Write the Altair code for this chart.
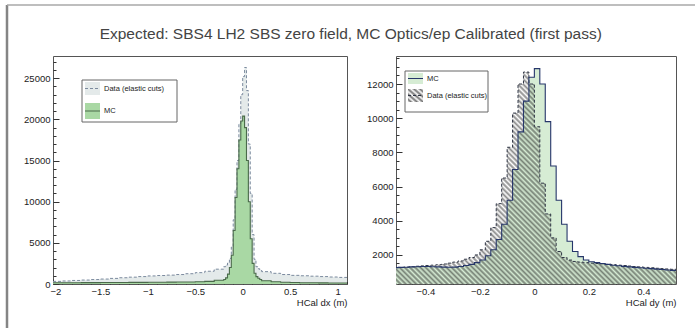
import altair as alt
import pandas as pd

FONT = "Liberation Sans"
TITLE = "Expected: SBS4 LH2 SBS zero field, MC Optics/ep Calibrated (first pass)"
DATA_NAME = "Data (elastic cuts)"
MC_NAME = "MC"
DX_TITLE = "HCal dx (m)"
DY_TITLE = "HCal dy (m)"

# ---------------- left panel: HCal dx (bin edges + contents) ----------------
dx_edges = [-2.0, -1.9, -1.8, -1.7, -1.6, -1.5, -1.4, -1.3, -1.2, -1.1, -1.0, -0.9,
            -0.8, -0.7, -0.6, -0.5, -0.4, -0.3,
            -0.2, -0.18, -0.16, -0.14, -0.12, -0.10, -0.08, -0.06, -0.04, -0.02,
            0.0, 0.02, 0.04, 0.06, 0.08, 0.10, 0.12, 0.14, 0.16, 0.18,
            0.2, 0.3, 0.4, 0.5, 0.6, 0.7, 0.8, 0.9, 1.0, 1.1]
dx_data = [320, 370, 430, 480, 540, 600, 680, 760, 830, 900, 980, 1030, 1080, 1150, 1250, 1380, 1550, 1800,
           2100, 2300, 2600, 3100, 4500, 7800, 11500, 15000, 19500, 23000,
           25200, 26300, 23500, 17000, 11000, 6000, 3000, 2100, 1850, 1700,
           1500, 1300, 1150, 1050, 1000, 950, 900, 850, 800]
dx_mc = [150, 150, 160, 170, 170, 180, 180, 190, 200, 200, 210, 220, 230, 240, 250, 280, 320, 450,
         550, 750, 1200, 2000, 3500, 6500, 10500, 14000, 17500, 19800,
         20400, 19000, 15000, 10000, 5500, 2500, 1300, 900, 700, 550,
         400, 280, 220, 180, 160, 150, 140, 130, 120]

# ---------------- right panel: HCal dy ----------------
dy_edges = [round(-0.52 + 0.02 * i, 2) for i in range(53)]
dy_data = [1250, 1270, 1290, 1310, 1340, 1360, 1380, 1400, 1430, 1470, 1520, 1580, 1650,
           1750, 1850, 2000, 2300, 2800, 3600, 5000, 6500, 8300, 10300, 12000, 12700, 12000,
           9500, 6200, 4400, 3000, 2200, 1850, 1700, 1620, 1580, 1550, 1520, 1500, 1480,
           1450, 1430, 1400, 1380, 1350, 1320, 1300, 1270, 1250, 1220, 1200, 1180, 1160]
dy_mc = [1260, 1270, 1280, 1300, 1310, 1320, 1320, 1310, 1300, 1290, 1280, 1290, 1320,
         1380, 1450, 1550, 1700, 1950, 2300, 2900, 3800, 5200, 7000, 9200, 11000, 12400,
         12900, 12000, 9800, 7200, 5200, 3800, 2800, 2200, 1900, 1700, 1600, 1550, 1500,
         1450, 1400, 1370, 1330, 1300, 1270, 1250, 1220, 1200, 1170, 1150, 1120, 1100]

# axis ranges and ticks
DX_DOMAIN = [-2.0, 1.1]
DX_YDOMAIN = [0, 27700]
DY_DOMAIN = [-0.508, 0.52]
DY_YDOMAIN = [300, 13640]
dx_major = [-2, -1.5, -1, -0.5, 0, 0.5, 1]
dx_minor = [round(-2 + 0.1 * i, 1) for i in range(32) if i % 5 != 0]
dxy_major = [0, 5000, 10000, 15000, 20000, 25000]
dxy_minor = [1000 * i for i in range(1, 28) if i % 5 != 0]
dy_major = [-0.4, -0.2, 0, 0.2, 0.4]
dy_minor = [round(-0.5 + 0.05 * i, 2) for i in range(21) if round(-0.5 + 0.05 * i, 2) not in (-0.4, -0.2, 0.0, 0.2, 0.4)]
dyy_major = [2000, 4000, 6000, 8000, 10000, 12000]
dyy_minor = [500 * i for i in range(1, 28) if i % 4 != 0]

W1, W2, H = 294, 280, 228
LBL = dict(labelFont=FONT, labelFontSize=9.5, labelColor="#222")
CLEAR = "rgba(0,0,0,0)"


def steps(edges, values):
    return pd.DataFrame({"x": edges, "y": list(values) + [values[-1]]})


def hatch(n, color, x1, y1, x2, y2):
    """soft diagonal stripes (styling only)"""
    stops = []
    for i in range(n):
        stops += [alt.GradientStop(offset=i / n, color=CLEAR),
                  alt.GradientStop(offset=(i + 0.5) / n, color=color)]
    stops.append(alt.GradientStop(offset=1, color=CLEAR))
    return alt.LinearGradient(gradient="linear", stops=stops, x1=x1, y1=y1, x2=x2, y2=y2)


def tick_axis(orient, offset, values, size):
    return alt.Axis(orient=orient, offset=offset, values=values, labels=False, domain=False, grid=False,
                    ticks=True, tickSize=size, tickColor="#333", tickWidth=1, title=None)


def panel(edges, data_vals, mc_vals, xdom, ydom, xmaj, xmin, ymaj, ymin, width, xtitle, style):
    xs = alt.Scale(domain=xdom, nice=False, zero=False)
    ys = alt.Scale(domain=ydom, nice=False, zero=False)
    dd = steps(edges, data_vals)
    dm = steps(edges, mc_vals)
    bx = alt.Axis(orient="bottom", values=xmaj, ticks=False, tickSize=0, domain=False, grid=False,
                  labelPadding=2, labelFlush=1, labelFlushOffset=3, format="~g", title=xtitle, titleFont=FONT,
                  titleFontSize=9.5, titleFontWeight="normal", titleColor="#222", titleAnchor="end",
                  titleAlign="right", titlePadding=2, **LBL)
    ly = alt.Axis(orient="left", values=ymaj, ticks=False, tickSize=0, domain=False, grid=False,
                  labelPadding=3, format="d", title=None, **LBL)
    base2 = alt.Y2Datum(ydom[0])

    data_fill = alt.Chart(dd).mark_area(interpolate="step-after", fill=style["data_fill"], clip=True).encode(
        x=alt.X("x:Q", scale=xs, axis=bx),
        y=alt.Y("y:Q", scale=ys, axis=ly), y2=base2)
    mc_fill = alt.Chart(dm).mark_area(interpolate="step-after", fill=style["mc_fill"], clip=True).encode(
        x=alt.X("x:Q", scale=xs, axis=tick_axis("top", -H, xmaj, 5)),
        y=alt.Y("y:Q", scale=ys, axis=tick_axis("right", -width, ymaj, 6)), y2=base2)
    data_line = alt.Chart(dd).mark_line(interpolate="step-after", stroke=style["data_line"], strokeWidth=1,
                                        strokeDash=[3, 2], clip=True).encode(
        x=alt.X("x:Q", scale=xs, axis=tick_axis("top", -H, xmin, 2.5)),
        y=alt.Y("y:Q", scale=ys, axis=tick_axis("right", -width, ymin, 3)))
    mc_line = alt.Chart(dm).mark_line(interpolate="step-after", stroke=style["mc_line"], strokeWidth=1.1,
                                      clip=True).encode(
        x=alt.X("x:Q", scale=xs, axis=None), y=alt.Y("y:Q", scale=ys, axis=None))
    layers = [mc_fill, data_fill, data_line, mc_line] if style["data_on_top"] else [data_fill, mc_fill, data_line, mc_line]
    return layers


one = pd.DataFrame({"k": [0]})


def legend(entries, box):
    """entries: list of (label, swatch_fill, line_color, dash, y_top, y_bot)"""
    x0, x1, y0, y1 = box
    out = [alt.Chart(one).mark_rect(fill="white", stroke="#666", strokeWidth=1).encode(
        x=alt.value(x0), x2=alt.value(x1), y=alt.value(y0), y2=alt.value(y1))]
    for label, fill, lc, dash, t, b in entries:
        out.append(alt.Chart(one).mark_rect(fill=fill).encode(
            x=alt.value(x0 + 3), x2=alt.value(x0 + 18), y=alt.value(t), y2=alt.value(b)))
        kw = dict(strokeDash=dash) if dash else {}
        out.append(alt.Chart(one).mark_rule(stroke=lc, strokeWidth=1, **kw).encode(
            x=alt.value(x0 + 3), x2=alt.value(x0 + 18), y=alt.value((t + b) / 2)))
        out.append(alt.Chart(pd.DataFrame({"label": [label]})).mark_text(
            align="left", baseline="middle", font=FONT, fontSize=7.5, color="#222").encode(
            x=alt.value(x0 + 22), y=alt.value((t + b) / 2), text="label:N"))
    return out


left_style = dict(data_fill="#e4eaea", mc_fill="#a9d8a4", data_line="#7b8a9e", mc_line="#4a6a4a", data_on_top=False)
right_style = dict(data_fill=hatch(85, "rgba(25,25,25,0.5)", 0, 1, 1, 0.25), mc_fill="#d6ecd4",
                   data_line="#2e3444", mc_line="#26366a", data_on_top=True)

left_layers = panel(dx_edges, dx_data, dx_mc, DX_DOMAIN, DX_YDOMAIN, dx_major, dx_minor, dxy_major, dxy_minor,
                    W1, DX_TITLE, left_style)
left_layers += legend([(DATA_NAME, "#e4eaea", "#7b8a9e", [3, 2], 26, 39),
                       (MC_NAME, "#a9d8a4", "#4a6a4a", None, 47, 63)], (29, 124, 24, 66))
# canvas frame (ROOT canvas border)
left_layers += [
    alt.Chart(one).mark_rule(stroke="#858585", strokeWidth=2.5).encode(
        x=alt.value(-46), y=alt.value(-51), y2=alt.value(272)),
    alt.Chart(one).mark_rule(stroke="#a8a8a8", strokeWidth=1.5).encode(
        x=alt.value(-46), x2=alt.value(642), y=alt.value(-51)),
]
left = alt.layer(*left_layers).resolve_axis(x="independent", y="independent").properties(width=W1, height=H)

right_layers = panel(dy_edges, dy_data, dy_mc, DY_DOMAIN, DY_YDOMAIN, dy_major, dy_minor, dyy_major, dyy_minor,
                     W2, DY_TITLE, right_style)
right_layers += legend([(MC_NAME, "#d6ecd4", "#26366a", None, 17, 28),
                        (DATA_NAME, hatch(5, "rgba(25,25,25,0.6)", 0, 1, 1, 0), "#2e3444", [3, 2], 33, 46)],
                       (9, 92, 15, 56))
right = alt.layer(*right_layers).resolve_axis(x="independent", y="independent").properties(width=W2, height=H)

chart = alt.hconcat(left, right, spacing=49, bounds="flush").properties(
    title=alt.TitleParams(text=TITLE, font=FONT, fontSize=15.5, fontWeight="normal", color="#444",
                          anchor="middle", offset=-39),
    background="white",
).configure(padding={"left": 5, "top": 3, "right": 0, "bottom": 0}).configure_view(stroke="#555", strokeWidth=1)

chart.save("out.html", embed_options={"renderer": "svg", "actions": False})
